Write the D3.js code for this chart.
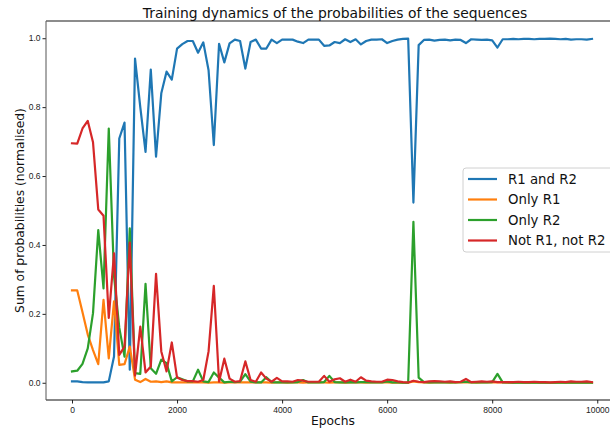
<!DOCTYPE html>
<html>
<head>
<meta charset="utf-8">
<script src="https://cdn.jsdelivr.net/npm/d3@7"></script>
<style>
  body { margin: 0; background: #fff; }
  svg { font-family: "DejaVu Sans", sans-serif; }
  .tick text { font-size: 8.5px; fill: #222; }
  .tick line { stroke: #222; }
</style>
</head>
<body>
<svg id="chart" width="610" height="431"></svg>
<script>
// Epochs sampled every 100 steps
var epochs = d3.range(0, 10000, 100);

var seriesNames = ['R1 and R2', 'Only R1', 'Only R2', 'Not R1, not R2'];
var seriesColors = ['#1f77b4', '#ff7f0e', '#2ca02c', '#d62728'];

var bothR1R2 = [
  .004, .004, .002, .001, .001, .001, .001, .004, .076, .709,
  .755, .038, .941, .800, .670, .909, .656, .840, .903, .880,
  .970, .983, .992, .992, .958, .988, .907, .690, .984, .930,
  .985, .996, .992, .912, .989, .996, .970, .970, .996, .986,
  .996, .996, .996, .990, .986, .996, .996, .996, .978, .979,
  .989, .986, .997, .989, .997, .982, .992, .996, .996, .997,
  .986, .992, .996, .998, .999, .523, .980, .995, .996, .993,
  .995, .996, .994, .996, .995, .986, .997, .996, .995, .996,
  .994, .973, .997, .997, .998, .997, .998, .998, .997, .998,
  .998, .999, .998, .997, .998, .996, .997, .997, .996, .998
];

var onlyR1 = [
  .268, .268, .205, .140, .095, .054, .241, .071, .236, .052,
  .054, .105, .009, .002, .011, .003, .004, .002, .004, .001,
  .001, .001, .001, .001, .001, .001, .000, .001, .001, .000,
  .001, .001, .001, .001, .001, .001, .001, .001, .000, .001,
  .001, .000, .001, .001, .000, .001, .001, .001, .001, .000,
  .001, .001, .000, .001, .001, .001, .000, .001, .001, .001,
  .001, .000, .001, .000, .000, .004, .002, .001, .000, .001,
  .001, .001, .000, .001, .001, .001, .001, .000, .001, .001,
  .001, .001, .001, .000, .000, .001, .000, .000, .000, .000,
  .000, .000, .000, .000, .000, .000, .000, .000, .000, .000
];

var onlyR2 = [
  .033, .035, .055, .100, .202, .443, .274, .738, .310, .160,
  .076, .448, .028, .026, .287, .042, .026, .067, .057, .004,
  .016, .010, .004, .004, .038, .004, .002, .030, .015, .001,
  .003, .002, .003, .025, .003, .001, .001, .016, .002, .001,
  .001, .001, .001, .002, .008, .001, .001, .001, .002, .020,
  .002, .001, .001, .002, .001, .002, .002, .001, .001, .001,
  .004, .001, .001, .000, .000, .467, .015, .002, .001, .001,
  .001, .001, .002, .001, .002, .003, .001, .001, .001, .001,
  .002, .026, .001, .001, .000, .001, .000, .000, .001, .000,
  .000, .000, .000, .000, .000, .000, .000, .000, .000, .000
];

var notR1notR2 = [
  .695, .694, .738, .760, .698, .503, .485, .188, .376, .081,
  .105, .407, .021, .163, .030, .047, .316, .091, .033, .117,
  .015, .008, .005, .005, .003, .008, .091, .281, .003, .070,
  .012, .003, .005, .062, .008, .003, .030, .012, .003, .014,
  .004, .004, .003, .008, .006, .003, .003, .003, .020, .003,
  .010, .013, .003, .009, .003, .016, .006, .004, .003, .003,
  .009, .008, .004, .002, .001, .006, .003, .002, .004, .005,
  .004, .003, .004, .002, .003, .011, .002, .003, .004, .003,
  .004, .002, .002, .002, .002, .003, .002, .002, .003, .002,
  .002, .001, .002, .003, .002, .004, .003, .003, .004, .002
];

var xTicks = [0, 2000, 4000, 6000, 8000, 10000];
var yTicks = [0.0, 0.2, 0.4, 0.6, 0.8, 1.0];

var allSeries = [bothR1R2, onlyR1, onlyR2, notR1notR2];

var svg = d3.select('#chart');
var plot = { left: 46, right: 618, top: 21, bottom: 400 };

// Domains with 5% padding, like matplotlib autoscale
var xExt = d3.extent(epochs);
var xPad = (xExt[1] - xExt[0]) * 0.05;
var x = d3.scaleLinear()
  .domain([xExt[0] - xPad, xExt[1] + xPad])
  .range([plot.left, plot.right]);

var yMin = d3.min(allSeries, function(s){ return d3.min(s) });
var yMax = d3.max(allSeries, function(s){ return d3.max(s) });
var y = d3.scaleLinear()
  .domain([Math.min(yMin, 0) - 0.05, Math.max(yMax, 1) + 0.05])
  .range([plot.bottom, plot.top]);

// Clip lines to plot area
svg.append('defs').append('clipPath').attr('id', 'clip')
  .append('rect')
  .attr('x', plot.left).attr('y', plot.top)
  .attr('width', plot.right - plot.left)
  .attr('height', plot.bottom - plot.top);

var line = d3.line()
  .x(function(d, i){ return x(epochs[i]) })
  .y(function(d){ return y(d) });

var lines = svg.append('g').attr('clip-path', 'url(#clip)');
allSeries.forEach(function(s, k){
  lines.append('path')
    .datum(s)
    .attr('fill', 'none')
    .attr('stroke', seriesColors[k])
    .attr('stroke-width', 2.2)
    .attr('stroke-linejoin', 'round')
    .attr('stroke-linecap', 'square')
    .attr('d', line);
});

// Axes
svg.append('g')
  .attr('transform', 'translate(0,' + plot.bottom + ')')
  .call(d3.axisBottom(x).tickValues(xTicks).tickFormat(d3.format('d')).tickSize(3.5).tickPadding(3))
  .call(function(g){ g.select('.domain').remove() });

svg.append('g')
  .attr('transform', 'translate(' + plot.left + ',0)')
  .call(d3.axisLeft(y).tickValues(yTicks).tickFormat(d3.format('.1f')).tickSize(3.5).tickPadding(2))
  .call(function(g){ g.select('.domain').remove() });

// Spines
svg.append('line')
  .attr('x1', plot.left).attr('x2', plot.right)
  .attr('y1', plot.bottom).attr('y2', plot.bottom)
  .attr('stroke', '#111').attr('stroke-width', 1.2);
svg.append('line')
  .attr('x1', plot.left).attr('x2', plot.left)
  .attr('y1', plot.top).attr('y2', plot.bottom)
  .attr('stroke', '#555').attr('stroke-width', 1);
svg.append('line')
  .attr('x1', plot.left).attr('x2', plot.right)
  .attr('y1', plot.top).attr('y2', plot.top)
  .attr('stroke', '#666').attr('stroke-width', 1.5);

// Title and axis labels
svg.append('text')
  .attr('x', 335).attr('y', 18)
  .attr('text-anchor', 'middle')
  .attr('font-size', '13.9px')
  .attr('fill', '#111')
  .text('Training dynamics of the probabilities of the sequences');

svg.append('text')
  .attr('x', 333).attr('y', 425)
  .attr('text-anchor', 'middle')
  .attr('font-size', '12.3px')
  .attr('fill', '#111')
  .text('Epochs');

svg.append('text')
  .attr('transform', 'translate(24,' + ((plot.top + plot.bottom) / 2) + ') rotate(-90)')
  .attr('text-anchor', 'middle')
  .attr('font-size', '12.3px')
  .attr('fill', '#111')
  .text('Sum of probabilities (normalised)');

// Legend
var legend = svg.append('g').attr('transform', 'translate(463,168)');
legend.append('rect')
  .attr('width', 160).attr('height', 84)
  .attr('rx', 3)
  .attr('fill', '#fff').attr('fill-opacity', 0.8)
  .attr('stroke', '#d0d0d0');
seriesNames.forEach(function(name, k){
  var ly = 11 + k * 20.5;
  legend.append('line')
    .attr('x1', 5).attr('x2', 34)
    .attr('y1', ly).attr('y2', ly)
    .attr('stroke', seriesColors[k])
    .attr('stroke-width', 2.2);
  legend.append('text')
    .attr('x', 45).attr('y', ly + 4.8)
    .attr('font-size', '13.3px')
    .attr('fill', '#111')
    .text(name);
});
</script>
</body>
</html>
